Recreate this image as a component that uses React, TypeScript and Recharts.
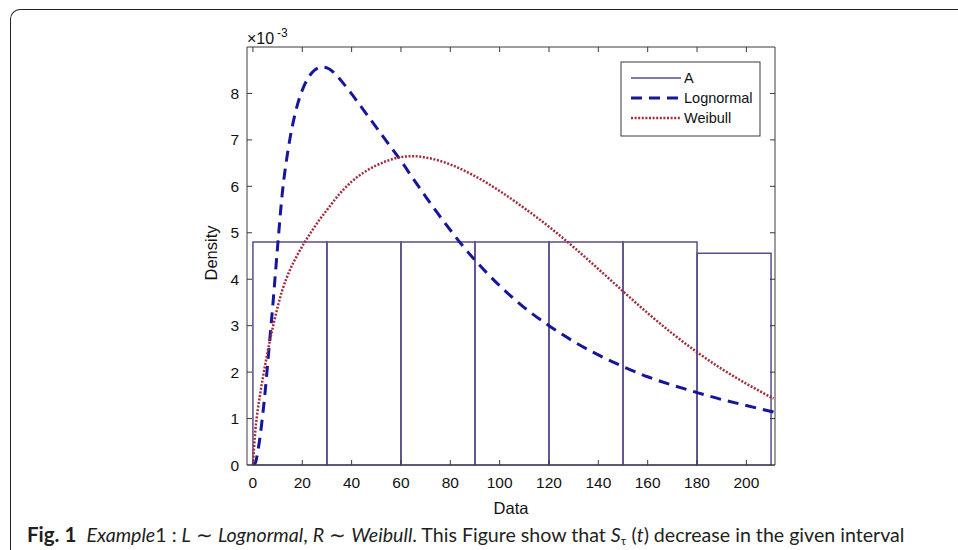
import React from 'react';
import { ComposedChart, Line, XAxis, YAxis, ReferenceArea } from 'recharts';

// Histogram "A": bin edges and bar heights (×10^-3)
const binEdges = [0, 30, 60, 90, 120, 150, 180, 210];
const binHeights = [4.8, 4.8, 4.8, 4.8, 4.8, 4.8, 4.56];

// Lognormal density (×10^-3)
const lognormalX = [0, 1, 2, 3, 4, 5, 6, 7, 8, 9, 10, 12, 14, 16, 18, 20, 22, 24, 26, 28, 30, 33, 36, 40, 45, 50, 55, 60, 65, 70, 75, 80, 85, 90, 100, 110, 120, 130, 140, 150, 160, 170, 180, 190, 200, 211];
const lognormalY = [0, 0.05, 0.3, 0.65, 1.1, 1.6, 2.2, 2.8, 3.4, 4.05, 4.7, 5.9, 6.7, 7.3, 7.75, 8.07, 8.3, 8.45, 8.54, 8.57, 8.55, 8.44, 8.26, 7.99, 7.63, 7.27, 6.91, 6.55, 6.16, 5.78, 5.41, 5.06, 4.72, 4.41, 3.86, 3.39, 3.0, 2.66, 2.37, 2.12, 1.9, 1.72, 1.56, 1.41, 1.28, 1.14];

// Weibull density (×10^-3)
const weibullX = [0, 1, 2, 3, 4, 6, 8, 10, 12, 15, 18, 21, 24, 27, 30, 35, 40, 45, 50, 55, 60, 65, 70, 75, 80, 90, 100, 110, 120, 130, 140, 150, 160, 170, 180, 190, 200, 211];
const weibullY = [0, 0.75, 1.2, 1.55, 1.87, 2.45, 2.95, 3.4, 3.78, 4.2, 4.52, 4.8, 5.05, 5.28, 5.49, 5.83, 6.1, 6.3, 6.45, 6.56, 6.63, 6.65, 6.62, 6.56, 6.47, 6.22, 5.9, 5.53, 5.13, 4.69, 4.22, 3.74, 3.27, 2.83, 2.43, 2.07, 1.75, 1.43];

const xTicks = [0, 20, 40, 60, 80, 100, 120, 140, 160, 180, 200];
const yTicks = [0, 1, 2, 3, 4, 5, 6, 7, 8];
const legendLabels = ['A', 'Lognormal', 'Weibull'];

const lognormalData = lognormalX.map((x, i) => ({ x, y: lognormalY[i] }));
const weibullData = weibullX.map((x, i) => ({ x, y: weibullY[i] }));

const AXIS = '#3a3a3a';
const HIST = '#5b4c8c';
const BLUE = '#16169c';
const RED = '#a02c3c';
const TXT = '#111';
const FONT = '"Liberation Sans", Arial, sans-serif';

const BottomTick = (p: any) => (
  <g>
    <line x1={p.x} y1={p.y} x2={p.x} y2={p.y - 5} stroke={AXIS} strokeWidth={1} />
    <text x={p.x} y={p.y + 23} textAnchor="middle" fontSize={15.5} fontFamily={FONT} fill={TXT}>{p.payload.value}</text>
  </g>
);
const TopTick = (p: any) => (
  <line x1={p.x} y1={p.y} x2={p.x} y2={p.y + 5} stroke={AXIS} strokeWidth={1} />
);
const LeftTick = (p: any) => (
  <g>
    <line x1={p.x} y1={p.y} x2={p.x + 5} y2={p.y} stroke={AXIS} strokeWidth={1} />
    <text x={p.x - 8} y={p.y + 5.5} textAnchor="end" fontSize={15.5} fontFamily={FONT} fill={TXT}>{p.payload.value}</text>
  </g>
);
const RightTick = (p: any) => (
  <line x1={p.x} y1={p.y} x2={p.x - 5} y2={p.y} stroke={AXIS} strokeWidth={1} />
);

const XLabel = (p: any) => {
  const vb = p.viewBox;
  return (
    <text x={vb.x + vb.width / 2} y={vb.y + 49} textAnchor="middle" fontSize={16.5} fontFamily={FONT} fill={TXT}>Data</text>
  );
};
const YLabel = (p: any) => {
  const vb = p.viewBox;
  const cy = vb.y + vb.height / 2 - 3;
  return (
    <text transform={`translate(${vb.x + 10}, ${cy}) rotate(-90)`} textAnchor="middle" fontSize={16.5} fontFamily={FONT} fill={TXT}>Density</text>
  );
};

export default function App() {
  return (
    <div style={{ position: 'absolute', left: 0, top: 0, width: 958, height: 550, overflow: 'hidden', background: '#fff' }}>
      <div style={{ position: 'absolute', left: 10, top: 9, width: 990, height: 600, borderTop: '1.5px solid #222', borderLeft: '1.5px solid #222', borderTopLeftRadius: 10 }} />
      <div style={{ position: 'absolute', left: 0, top: 0 }}>
        <ComposedChart width={958} height={550} margin={{ top: 46, right: 182, bottom: 55, left: 207 }}>
          <XAxis dataKey="x" type="number" domain={[-2.4, 211.6]} ticks={xTicks} allowDataOverflow
            stroke={AXIS} tickSize={0} tickMargin={0} tick={BottomTick} tickLine={false} height={30} label={XLabel} />
          <XAxis xAxisId="top" orientation="top" dataKey="x" type="number" domain={[-2.4, 211.6]} ticks={xTicks} allowDataOverflow
            stroke={AXIS} tickSize={0} tickMargin={0} tick={TopTick} tickLine={false} height={1} />
          <YAxis type="number" domain={[0, 9]} ticks={yTicks} allowDataOverflow stroke={AXIS} tickSize={0} tickMargin={0}
            tick={LeftTick} tickLine={false} width={40} label={YLabel} />
          <YAxis yAxisId="right" orientation="right" type="number" domain={[0, 9]} ticks={yTicks} allowDataOverflow stroke={AXIS}
            tickSize={0} tickMargin={0} tick={RightTick} tickLine={false} width={1} />
          {binHeights.map((h, i) => (
            <ReferenceArea key={i} x1={binEdges[i]} x2={binEdges[i + 1]} y1={0} y2={h} fill="none" fillOpacity={0}
              stroke={HIST} strokeWidth={1.5} ifOverflow="visible" />
          ))}
          <Line data={lognormalData} dataKey="y" type="monotone" stroke={BLUE} strokeWidth={3} strokeDasharray="11 7"
            dot={false} activeDot={false} isAnimationActive={false} />
          <Line data={weibullData} dataKey="y" type="monotone" stroke={RED} strokeWidth={2.5} strokeDasharray="2 1.6"
            dot={false} activeDot={false} isAnimationActive={false} />
        </ComposedChart>
      </div>
      <svg width={958} height={550} style={{ position: 'absolute', left: 0, top: 0, pointerEvents: 'none' }}>
        <text x={247} y={44} fontSize={16} fontFamily={FONT} fill={TXT}>×10</text>
        <text x={277} y={37} fontSize={12} fontFamily={FONT} fill={TXT}>-3</text>
        <rect x={621} y={62} width={139} height={74} fill="#fff" stroke={AXIS} strokeWidth={1} />
        <line x1={631} y1={78} x2={681} y2={78} stroke={HIST} strokeWidth={1.5} />
        <line x1={631} y1={98} x2={681} y2={98} stroke={BLUE} strokeWidth={3} strokeDasharray="11 7" />
        <line x1={631} y1={118} x2={681} y2={118} stroke={RED} strokeWidth={2.5} strokeDasharray="2 1.6" />
        {legendLabels.map((l, i) => (
          <text key={l} x={684} y={83 + i * 20} fontSize={14.5} fontFamily={FONT} fill={TXT}>{l}</text>
        ))}
      </svg>
      <div style={{ position: 'absolute', left: 27, top: 523, whiteSpace: 'nowrap', fontFamily: 'Lato, "Open Sans", sans-serif', fontSize: 19.6, color: '#231f20', lineHeight: '22px' }}>
        <b style={{ fontSize: 20.5 }}>Fig. 1</b>&nbsp;&nbsp;<i>Example</i>1 : <i>L</i> ∼ <i>Lognormal</i>, <i>R</i> ∼ <i>Weibull</i>. This Figure show that <i>S</i><span style={{ fontSize: 12, position: 'relative', top: 3 }}>τ</span> (<i>t</i>) decrease in the given interval
      </div>
    </div>
  );
}
